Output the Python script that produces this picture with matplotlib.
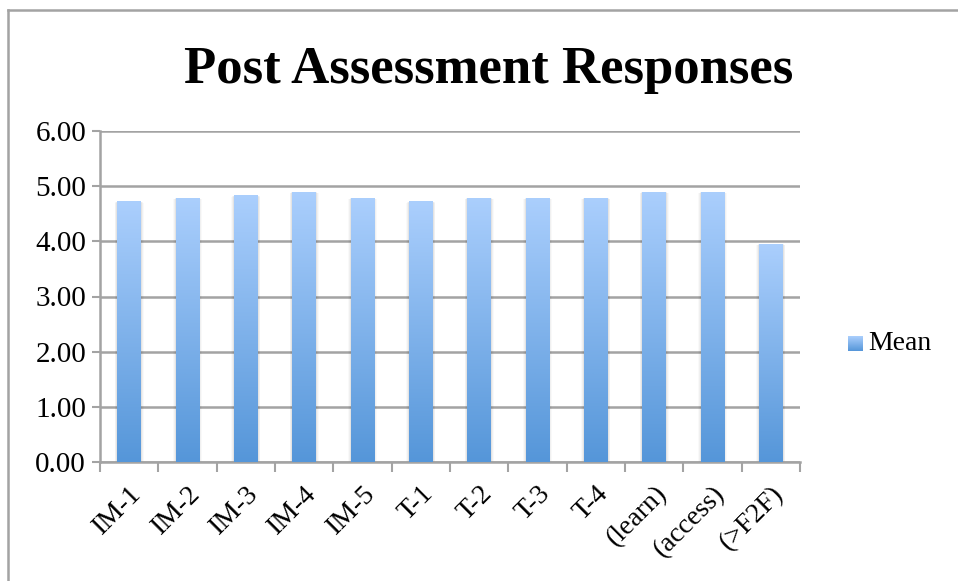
import numpy as np
import matplotlib
matplotlib.use("Agg")
import matplotlib.pyplot as plt
from matplotlib.colors import LinearSegmentedColormap
from matplotlib.lines import Line2D
from matplotlib.patches import Rectangle

categories = ["IM-1", "IM-2", "IM-3", "IM-4", "IM-5", "T-1", "T-2", "T-3", "T-4",
              "(learn)", "(access)", "(>F2F)"]
mean_values = [4.73, 4.79, 4.84, 4.90, 4.79, 4.73, 4.79, 4.79, 4.79, 4.90, 4.90, 3.96]
y_ticks = [0, 1, 2, 3, 4, 5, 6]
y_tick_labels = ["0.00", "1.00", "2.00", "3.00", "4.00", "5.00", "6.00"]
title = "Post Assessment Responses"
series_name = "Mean"

serif = ["Liberation Serif", "DejaVu Serif"]
plt.rcParams["font.family"] = serif

fig = plt.figure(figsize=(9.58, 5.81), dpi=100)
W, H = 958, 581
ax = fig.add_axes([100 / W, 1 - 462 / H, 700 / W, (462 - 131) / H])

top_c = "#abcffd"
bot_c = "#5596d9"
cmap = LinearSegmentedColormap.from_list("g", [bot_c, top_c])
grad = np.linspace(0, 1, 256).reshape(-1, 1)

x = np.arange(len(categories))
width = 0.41
bars = ax.bar(x, mean_values, width=width, color="none", edgecolor="none", zorder=3)
for b, v in zip(bars, mean_values):
    x0 = b.get_x()
    # soft shadow
    for k, a in enumerate([0.05, 0.035, 0.025]):
        d = 0.03 * (k + 1)
        sh = Rectangle((x0 - d / 2, 0), width + d, v - 0.01 * (k + 1),
                       facecolor="black", alpha=a, edgecolor="none", zorder=2.5)
        ax.add_patch(sh)
    im = ax.imshow(grad, cmap=cmap, aspect="auto", origin="lower",
                   extent=[x0, x0 + width, 0, v], zorder=3, interpolation="bicubic")
    im.set_clip_path(b)

ax.set_xlim(-0.5, len(categories) - 0.5)
ax.set_ylim(0, 6)
ax.set_yticks(y_ticks)
ax.set_yticklabels(y_tick_labels, fontsize=21)
ax.yaxis.grid(True, color="#a3a3a3", linewidth=1.8, zorder=1)
ax.set_axisbelow(True)

ax.set_xticks(np.arange(len(categories) + 1) - 0.5)
ax.set_xticklabels([])
ax.set_xticks(x, minor=True)
ax.set_xticklabels(categories, minor=True, rotation=45, ha="right", va="top",
                   rotation_mode="anchor", fontsize=20)
ax.tick_params(axis="x", which="minor", length=0, pad=14)
ax.tick_params(axis="x", which="major", length=7, width=1.5, color="#a3a3a3", direction="out")
ax.tick_params(axis="y", length=6, width=1.5, color="#a3a3a3", pad=4)

for s in ["top", "right"]:
    ax.spines[s].set_visible(False)
for s in ["left", "bottom"]:
    ax.spines[s].set_color("#a3a3a3")
    ax.spines[s].set_linewidth(1.8)

fig.text(489 / W, 1 - 70 / H, title, ha="center", va="center", fontsize=38,
         fontweight="bold", family=serif)

# legend
lx0, ly0, lw = 848, 336, 15
lax = fig.add_axes([lx0 / W, 1 - (ly0 + lw) / H, lw / W, lw / H])
lax.imshow(grad, cmap=cmap, aspect="auto", origin="lower", extent=[0, 1, 0, 1])
lax.set_axis_off()
fig.text(868 / W, 1 - 344 / H, series_name, ha="left", va="center", fontsize=20, family=serif)

# outer frame
fig.add_artist(Line2D([8 / W, 8 / W], [0, 1 - 9.5 / H], transform=fig.transFigure,
                      color="#a3a3a3", linewidth=1.8))
fig.add_artist(Line2D([8 / W, 1], [1 - 9.5 / H, 1 - 9.5 / H], transform=fig.transFigure,
                      color="#a3a3a3", linewidth=1.8))

fig.savefig("out.png", dpi=100)
